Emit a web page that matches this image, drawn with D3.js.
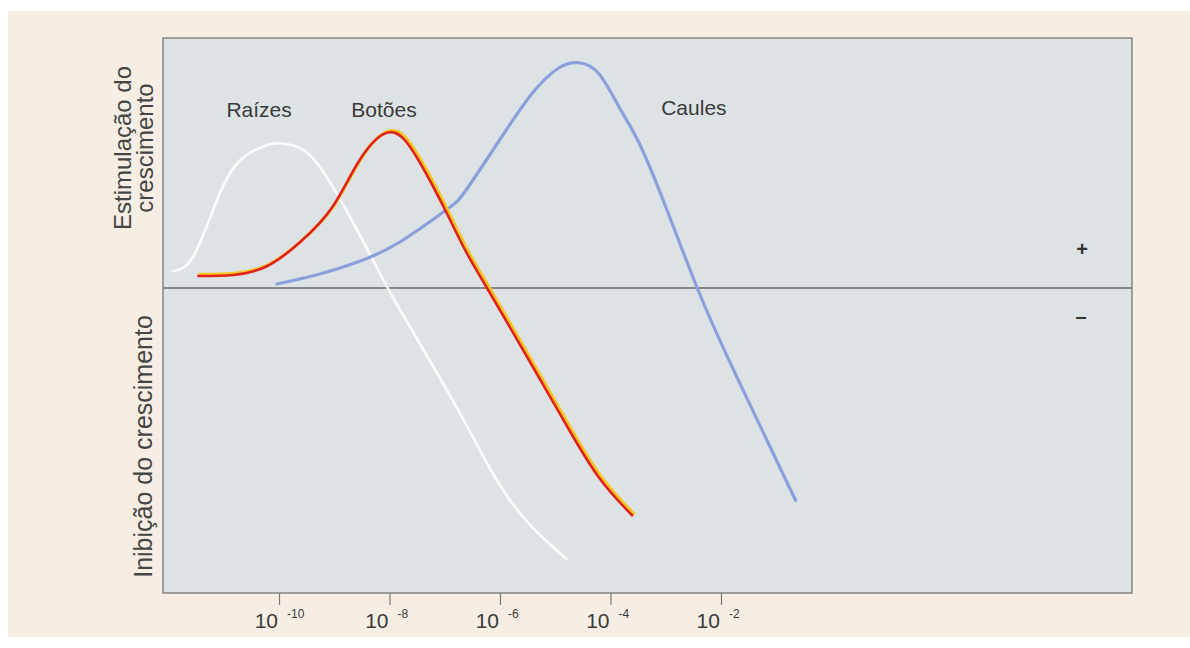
<!DOCTYPE html>
<html>
<head>
<meta charset="utf-8">
<script src="https://cdn.jsdelivr.net/npm/d3@7"></script>
<style>
    html, body { margin: 0; padding: 0; background: #ffffff; }
    svg { display: block; }
    text { font-family: "Liberation Sans", Arial, Helvetica, sans-serif; }
</style>
</head>
<body>
<div id="chart"></div>
<script>
// Data: exponent of concentration (10^x) and growth response (+ stimulation / - inhibition)
const raizesExp  = [-11.93, -11.55, -11.12, -10.70, -10.22, -9.98, -9.62, -9.26, -8.72, -8.12, -7.82, -7.22, -6.61, -6.01, -5.42, -4.80];
const raizesResp = [0.067, 0.127, 0.353, 0.512, 0.571, 0.579, 0.560, 0.484, 0.286, 0.036, -0.083, -0.310, -0.548, -0.786, -0.956, -1.083];

const botoesExp  = [-11.46, -10.83, -10.22, -9.62, -9.03, -8.54, -8.00, -7.51, -6.97, -6.61, -6.14, -5.42, -4.80, -4.21, -3.61];
const botoesResp = [0.048, 0.052, 0.087, 0.183, 0.325, 0.512, 0.623, 0.524, 0.302, 0.143, -0.036, -0.310, -0.548, -0.758, -0.909];

const caulesExp  = [-10.04, -9.26, -8.54, -7.82, -6.97, -6.61, -6.01, -5.42, -4.93, -4.57, -4.21, -3.84, -3.48, -3.00, -2.40, -1.81, -1.19, -0.65];
const caulesResp = [0.016, 0.056, 0.107, 0.183, 0.313, 0.393, 0.591, 0.778, 0.881, 0.901, 0.857, 0.722, 0.579, 0.325, -0.016, -0.310, -0.599, -0.849];

const tickExps = [-10, -8, -6, -4, -2];
const curveNames = ["Raízes", "Botões", "Caules"];
const labelExps = [-10.36, -8.10, -2.49];
const labelResp = [0.685, 0.685, 0.693];

const W = 1190, H = 648;
const plot = { left: 163, right: 1132, top: 38, bottom: 593 };

const svg = d3.select("#chart").append("svg")
    .attr("width", W)
    .attr("height", H);

// Paper background
svg.append("rect")
    .attr("x", 8).attr("y", 11)
    .attr("width", W - 8).attr("height", 626)
    .attr("fill", "#f6ede4");

// Scales
const x = d3.scaleLog()
    .domain([Math.pow(10, -12.1), Math.pow(10, 5.44)])
    .range([plot.left, plot.right]);

const y = d3.scaleLinear()
    .domain([-1.22, 1])
    .range([plot.bottom, plot.top]);

// Plot panel
svg.append("rect")
    .attr("x", plot.left).attr("y", plot.top)
    .attr("width", plot.right - plot.left)
    .attr("height", plot.bottom - plot.top)
    .attr("fill", "#dde3e4")
    .attr("stroke", "#6d6d6d")
    .attr("stroke-width", 1.2);

// Zero line
svg.append("line")
    .attr("x1", plot.left).attr("x2", plot.right)
    .attr("y1", y(0)).attr("y2", y(0))
    .attr("stroke", "#6a6a6a")
    .attr("stroke-width", 1.3);

// X axis ticks
const xAxis = svg.append("g")
    .attr("transform", `translate(0,${plot.bottom})`)
    .call(d3.axisBottom(x)
        .tickValues(tickExps.map(e => Math.pow(10, e)))
        .tickSize(12)
        .tickFormat(""));
xAxis.select(".domain").remove();
xAxis.selectAll(".tick line").attr("stroke", "#7a7a7a").attr("stroke-width", 1.2);

// Tick labels as 10 with superscript exponent
const tickLabel = svg.append("g").selectAll("g")
    .data(tickExps)
    .join("g")
    .attr("transform", d => `translate(${x(Math.pow(10, d))},0)`);

tickLabel.append("text")
    .attr("x", -1).attr("y", 628)
    .attr("text-anchor", "end")
    .attr("font-size", 21)
    .attr("fill", "#3b3b3b")
    .text("10");

tickLabel.append("text")
    .attr("x", 8).attr("y", 618)
    .attr("font-size", 12)
    .attr("fill", "#3b3b3b")
    .text(d => "-" + Math.abs(d));

// Curves
const line = d3.line()
    .x(d => x(Math.pow(10, d[0])))
    .y(d => y(d[1]))
    .curve(d3.curveNatural);

const raizes = d3.zip(raizesExp, raizesResp);
const botoes = d3.zip(botoesExp, botoesResp);
const caules = d3.zip(caulesExp, caulesResp);

svg.append("path")
    .datum(raizes)
    .attr("d", line)
    .attr("fill", "none")
    .attr("stroke", "#fbfbfb")
    .attr("stroke-width", 2.6)
    .attr("stroke-linecap", "round");

svg.append("path")
    .datum(caules)
    .attr("d", line)
    .attr("fill", "none")
    .attr("stroke", "#8b9fdd")
    .attr("stroke-width", 3.2)
    .attr("stroke-linecap", "round");

// Botões: yellow under red, slightly offset
svg.append("path")
    .datum(botoes)
    .attr("d", line)
    .attr("transform", "translate(1.6,-1.6)")
    .attr("fill", "none")
    .attr("stroke", "#f6c51e")
    .attr("stroke-width", 3.2)
    .attr("stroke-linecap", "round");

svg.append("path")
    .datum(botoes)
    .attr("d", line)
    .attr("fill", "none")
    .attr("stroke", "#e0221c")
    .attr("stroke-width", 2.6)
    .attr("stroke-linecap", "round");

// Curve labels
svg.append("g").selectAll("text")
    .data(curveNames)
    .join("text")
    .attr("x", (d, i) => x(Math.pow(10, labelExps[i])))
    .attr("y", (d, i) => y(labelResp[i]))
    .attr("text-anchor", "middle")
    .attr("font-size", 21)
    .attr("fill", "#3a3a3a")
    .text(d => d);

// + / - markers
svg.append("text")
    .attr("x", 1082).attr("y", 256)
    .attr("text-anchor", "middle")
    .attr("font-size", 20)
    .attr("font-weight", "bold")
    .attr("fill", "#333")
    .text("+");

svg.append("text")
    .attr("x", 1081).attr("y", 323)
    .attr("text-anchor", "middle")
    .attr("font-size", 20)
    .attr("font-weight", "bold")
    .attr("fill", "#333")
    .text("–");

// Y axis labels
const stimMid = (y(1) + y(0)) / 2 - 15;
const inibMid = (y(0) + y(-1.22)) / 2 + 6;

const stim = svg.append("text")
    .attr("transform", `translate(131,${stimMid}) rotate(-90)`)
    .attr("text-anchor", "middle")
    .attr("font-size", 24)
    .attr("fill", "#454545");
stim.append("tspan").attr("x", 0).attr("dy", 0).text("Estimulação do");
stim.append("tspan").attr("x", 0).attr("dy", 22).text("crescimento");

svg.append("text")
    .attr("transform", `translate(152,${inibMid}) rotate(-90)`)
    .attr("text-anchor", "middle")
    .attr("font-size", 25)
    .attr("fill", "#454545")
    .text("Inibição do crescimento");
</script>
</body>
</html>
